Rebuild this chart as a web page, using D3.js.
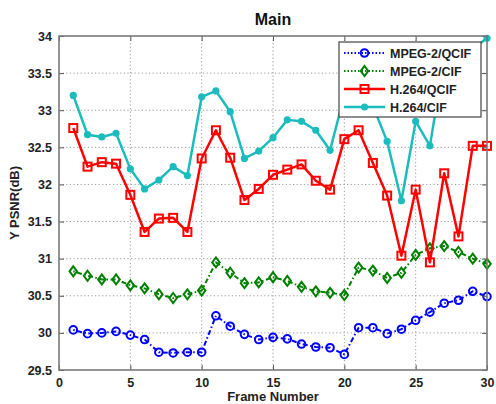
<!DOCTYPE html>
<html>
<head>
<meta charset="utf-8">
<script src="https://cdn.jsdelivr.net/npm/d3@7"></script>
<style>
  html, body { margin: 0; padding: 0; background: #fff; }
  svg { display: block; font-family: "Liberation Sans", Arial, sans-serif; }
</style>
</head>
<body>
<svg id="chart" width="496" height="404"></svg>
<script>
// Frame numbers
const frames = d3.range(1, 31);

// Y PSNR (dB) per frame for each codec/format
const mpeg2Qcif = [30.04, 29.99, 30.00, 30.02, 29.97, 29.91, 29.74, 29.73, 29.74, 29.74,
                   30.23, 30.09, 29.98, 29.91, 29.94, 29.92, 29.85, 29.81, 29.80, 29.71,
                   30.07, 30.07, 29.99, 30.05, 30.17, 30.28, 30.40, 30.44, 30.56, 30.49];
const mpeg2Cif  = [30.83, 30.77, 30.72, 30.72, 30.64, 30.60, 30.52, 30.47, 30.52, 30.57,
                   30.95, 30.81, 30.67, 30.68, 30.75, 30.70, 30.62, 30.56, 30.54, 30.51,
                   30.88, 30.84, 30.74, 30.81, 31.05, 31.14, 31.17, 31.09, 31.00, 30.93];
const h264Qcif  = [32.76, 32.24, 32.30, 32.28, 31.86, 31.36, 31.54, 31.55, 31.36, 32.35,
                   32.73, 32.36, 31.79, 31.94, 32.13, 32.20, 32.27, 32.05, 31.93, 32.61,
                   32.73, 32.29, 31.85, 31.04, 31.93, 30.95, 32.15, 31.30, 32.52, 32.52];
const h264Cif   = [33.20, 32.67, 32.64, 32.69, 32.21, 31.94, 32.06, 32.24, 32.12, 33.18,
                   33.26, 32.98, 32.35, 32.45, 32.63, 32.87, 32.85, 32.73, 32.46, 33.20,
                   33.35, 33.06, 32.58, 31.78, 32.85, 32.52, 33.70, 33.60, 33.83, 33.97];

const seriesNames = ["MPEG-2/QCIF", "MPEG-2/CIF", "H.264/QCIF", "H.264/CIF"];
const xTicks = [0, 5, 10, 15, 20, 25, 30];
const yTicks = [29.5, 30, 30.5, 31, 31.5, 32, 32.5, 33, 33.5, 34];

const series = [
  { name: seriesNames[0], values: mpeg2Qcif, color: "#0000ff", width: 2, dash: "1.5,2.5,5,2.5", marker: "circle" },
  { name: seriesNames[1], values: mpeg2Cif,  color: "#008000", width: 2, dash: "1.5,2.5,5,2.5", marker: "diamond" },
  { name: seriesNames[2], values: h264Qcif,  color: "#ff0000", width: 2.5, dash: null, marker: "square" },
  { name: seriesNames[3], values: h264Cif,   color: "#1cbcbc", width: 2.5, dash: null, marker: "dot" }
];

const svg = d3.select("#chart");
const pLeft = 59, pRight = 487, pTop = 36, pBottom = 370;

const x = d3.scaleLinear().domain([0, 30]).range([pLeft, pRight]);
const y = d3.scaleLinear().domain([29.5, 34]).range([pBottom, pTop]);

// Grid
const grid = svg.append("g").attr("stroke", "#9a9a9a").attr("stroke-width", 1)
  .attr("stroke-dasharray", "1.2,2.4");
grid.selectAll("line.gx").data(xTicks.filter(t => t > 0 && t < 30)).join("line")
  .attr("x1", d => x(d)).attr("x2", d => x(d)).attr("y1", pTop).attr("y2", pBottom);
grid.selectAll("line.gy").data(yTicks.filter(t => t > 29.5 && t < 34)).join("line")
  .attr("y1", d => y(d)).attr("y2", d => y(d)).attr("x1", pLeft).attr("x2", pRight);

// Marker drawing
function drawMarker(g, s, cx, cy) {
  if (s.marker === "circle") {
    g.append("circle").attr("cx", cx).attr("cy", cy).attr("r", 3.8)
      .attr("fill", "none").attr("stroke", s.color).attr("stroke-width", 2);
  } else if (s.marker === "diamond") {
    const r = 5;
    g.append("path").attr("d", `M${cx},${cy - r}L${cx + r * 0.75},${cy}L${cx},${cy + r}L${cx - r * 0.75},${cy}Z`)
      .attr("fill", "none").attr("stroke", s.color).attr("stroke-width", 2);
  } else if (s.marker === "square") {
    g.append("rect").attr("x", cx - 4).attr("y", cy - 4).attr("width", 8).attr("height", 8)
      .attr("fill", "none").attr("stroke", s.color).attr("stroke-width", 2);
  } else {
    g.append("circle").attr("cx", cx).attr("cy", cy).attr("r", 3.6).attr("fill", s.color);
  }
}

const line = d3.line().x((d, i) => x(frames[i])).y(d => y(d));
const plot = svg.append("g");
series.forEach(s => {
  plot.append("path").attr("d", line(s.values)).attr("fill", "none")
    .attr("stroke", s.color).attr("stroke-width", s.width)
    .attr("stroke-dasharray", s.dash).attr("stroke-linejoin", "round");
  const mg = plot.append("g");
  s.values.forEach((v, i) => drawMarker(mg, s, x(frames[i]), y(v)));
});

// Axes with inward ticks on all four sides
const tickStyle = g => {
  g.select(".domain").remove();
  g.selectAll(".tick line").attr("stroke", "#555").attr("stroke-width", 1);
  g.selectAll(".tick text").attr("fill", "#222").attr("font-size", "12.5px")
    .attr("font-weight", "bold").attr("font-family", "'Liberation Sans', Arial, sans-serif");
};
svg.append("g").attr("transform", `translate(0,${pBottom})`)
  .call(d3.axisBottom(x).tickValues(xTicks).tickFormat(d3.format("d")).tickSizeInner(-5).tickPadding(8))
  .call(tickStyle);
svg.append("g").attr("transform", `translate(0,${pTop})`)
  .call(d3.axisTop(x).tickValues(xTicks).tickFormat("").tickSizeInner(-5))
  .call(tickStyle);
svg.append("g").attr("transform", `translate(${pLeft},0)`)
  .call(d3.axisLeft(y).tickValues(yTicks).tickFormat(d => String(d)).tickSizeInner(-5).tickPadding(7))
  .call(tickStyle);
svg.append("g").attr("transform", `translate(${pRight},0)`)
  .call(d3.axisRight(y).tickValues(yTicks).tickFormat("").tickSizeInner(-5))
  .call(tickStyle);

// Plot frame
svg.append("rect").attr("x", pLeft).attr("y", pTop).attr("width", pRight - pLeft).attr("height", pBottom - pTop)
  .attr("fill", "none").attr("stroke", "#7a7a7a").attr("stroke-width", 1.6);

// Title and axis labels
svg.append("text").attr("x", (pLeft + pRight) / 2).attr("y", 25).attr("text-anchor", "middle")
  .attr("font-size", "16px").attr("font-weight", "bold").attr("fill", "#111").text("Main");
svg.append("text").attr("x", (pLeft + pRight) / 2).attr("y", 401).attr("text-anchor", "middle")
  .attr("font-size", "13px").attr("font-weight", "bold").attr("fill", "#222").text("Frame Number");
svg.append("text").attr("transform", `translate(19,${(pTop + pBottom) / 2}) rotate(-90)`)
  .attr("text-anchor", "middle").attr("font-size", "13px").attr("font-weight", "bold")
  .attr("fill", "#222").text("Y PSNR(dB)");

// Legend
const lg = svg.append("g");
lg.append("rect").attr("x", 339).attr("y", 42).attr("width", 142).attr("height", 75)
  .attr("fill", "#fff").attr("stroke", "#444").attr("stroke-width", 1.2);
series.forEach((s, i) => {
  const ly = 53 + i * 18;
  lg.append("line").attr("x1", 344).attr("x2", 385).attr("y1", ly).attr("y2", ly)
    .attr("stroke", s.color).attr("stroke-width", s.width)
    .attr("stroke-dasharray", s.dash ? "1.5,2" : null);
  drawMarker(lg, s, 364.5, ly);
  lg.append("text").attr("x", 390).attr("y", ly + 4.5).attr("font-size", "12.5px")
    .attr("font-weight", "bold").attr("fill", "#222").text(s.name);
});
</script>
</body>
</html>
